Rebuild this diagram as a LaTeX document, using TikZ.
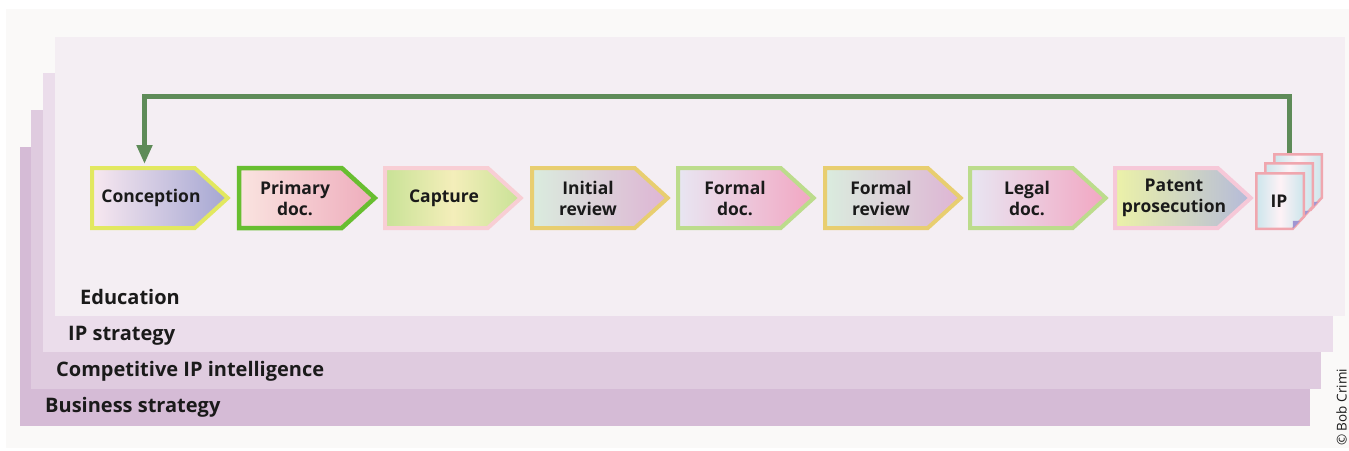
\documentclass[tikz,border=0pt]{standalone}
\usepackage{fontspec}
\setmainfont{Open Sans}
\usetikzlibrary{positioning,arrows.meta}

\definecolor{pagebg}{RGB}{250,249,248}
\definecolor{laybiz}{RGB}{213,187,214}
\definecolor{laycomp}{RGB}{223,203,223}
\definecolor{laystrat}{RGB}{235,221,235}
\definecolor{layedu}{RGB}{244,238,243}
\definecolor{loopgreen}{RGB}{94,139,88}
\definecolor{edgeyellow}{RGB}{226,232,96}
\definecolor{edgegreen}{RGB}{104,190,48}
\definecolor{edgepink}{RGB}{248,206,212}
\definecolor{edgegold}{RGB}{232,206,112}
\definecolor{edgelime}{RGB}{188,220,140}
\definecolor{edgerose}{RGB}{246,200,216}
\definecolor{ipedge}{RGB}{240,166,174}
\definecolor{txt}{RGB}{26,26,26}
% gradient ends
\definecolor{gpale}{RGB}{248,232,240}
\definecolor{gblue}{RGB}{164,166,210}
\definecolor{gpeach}{RGB}{250,228,224}
\definecolor{gpink}{RGB}{238,172,188}
\definecolor{glime}{RGB}{200,226,150}
\definecolor{gcream}{RGB}{244,238,186}
\definecolor{gmint}{RGB}{218,236,222}
\definecolor{gmauve}{RGB}{222,180,212}
\definecolor{glilac}{RGB}{232,230,242}
\definecolor{grose}{RGB}{242,166,194}
\definecolor{gyellow}{RGB}{236,242,168}
\definecolor{gsteel}{RGB}{180,186,218}
\definecolor{gice}{RGB}{204,230,236}
\definecolor{gblush}{RGB}{254,242,246}
\definecolor{gfold}{RGB}{160,150,210}

\begin{document}
\begin{tikzpicture}[
    x=1pt, y=-1pt,
    laylab/.style={font=\bfseries\fontsize{20}{24}\selectfont, anchor=west, inner sep=0, text=txt},
    chev/.style={line width=4pt, line join=miter},
    chevlab/.style={font=\bfseries\fontsize{17.5}{21}\selectfont, align=center, inner sep=0, text=txt},
    sheet/.style={draw=ipedge, line width=2.5pt, left color=gice, right color=gice, middle color=gblush},
    fold/.style={fill=gfold},
    feedback/.style={draw=loopgreen, line width=5pt, -{Triangle[width=15pt,length=19pt]}},
]
\useasboundingbox (0,0) rectangle (1349,450);
\fill[white] (0,0) rectangle (1349,450);
\fill[pagebg] (6,9) rectangle (1349,448);

% Nested layers
\fill[laybiz] (20,147) rectangle (1310,426);
\fill[laycomp] (31,110) rectangle (1321,389);
\fill[laystrat] (43,73) rectangle (1333,352);
\fill[layedu] (55,37) rectangle (1345,316);

\node[laylab] (edu) at (80,297) {Education};
\node[laylab] (strat) at (68,336) {IP strategy};
\node[laylab] (comp) at (56,371) {Competitive IP intelligence};
\node[laylab] (biz) at (45,407) {Business strategy};

% Process chevrons
\def\chev#1{(#1,168) -- ++(102.75,0) -- ++(33,30) -- ++(-33,30) -- ++(-102.75,0) -- cycle}
\path[chev, draw=edgeyellow, left color=gpale, right color=gblue] \chev{92};
\path[chev, line width=4.5pt, draw=edgegreen, left color=gpeach, right color=gpink] \chev{239};
\path[chev, draw=edgepink, left color=glime, right color=glime, middle color=gcream] \chev{385};
\path[chev, draw=edgegold, left color=gmint, right color=gmauve] \chev{532};
\path[chev, draw=edgelime, left color=glilac, right color=grose] \chev{678};
\path[chev, draw=edgegold, left color=gmint, right color=gmauve] \chev{825};
\path[chev, draw=edgelime, left color=glilac, right color=grose] \chev{970};
\path[chev, draw=edgerose, left color=gyellow, right color=gsteel] \chev{1115};

\node[chevlab] (conc) at (151,198) {Conception};
\node[chevlab] (prim) at (295,198) {Primary\\doc.};
\node[chevlab] (capt) at (444,198) {Capture};
\node[chevlab] (init) at (588,198) {Initial\\review};
\node[chevlab] (fdoc) at (735,198) {Formal\\doc.};
\node[chevlab] (frev) at (881,198) {Formal\\review};
\node[chevlab] (ldoc) at (1027,198) {Legal\\doc.};
\node[chevlab] (pros) at (1174,198) {Patent\\prosecution};

% IP stack
\def\sheet#1#2{(#1,#2) -- ++(47.5,0) -- ++(0,43.5) -- ++(-11,12) -- ++(-36.5,0) -- cycle}
\def\flap#1#2{(#1+36.5,#2+55.5) -- ++(0,-8) -- ++(7.3,0) -- cycle}
\path[sheet] \sheet{1274.25}{154.25};
\fill[fold] \flap{1274.25}{154.25};
\path[sheet] \sheet{1265.25}{163.25};
\fill[fold] \flap{1265.25}{163.25};
\path[sheet] \sheet{1256.25}{173.25};
\fill[fold] \flap{1256.25}{173.25};
\node[chevlab] (ip) at (1279,201) {IP};

% Feedback loop
\coordinate (ipTop) at (1289.5,153);
\coordinate (concTop) at (144.5,164);
\draw[feedback] (ipTop) -- ++(0,-56.5) -| (concTop);

% Credit
\node[font=\fontsize{13.5}{15}\selectfont, rotate=90, anchor=south west, inner sep=0, text=txt] (credit) at (1347,446) {\textcopyright\ Bob Crimi};
\end{tikzpicture}
\end{document}
